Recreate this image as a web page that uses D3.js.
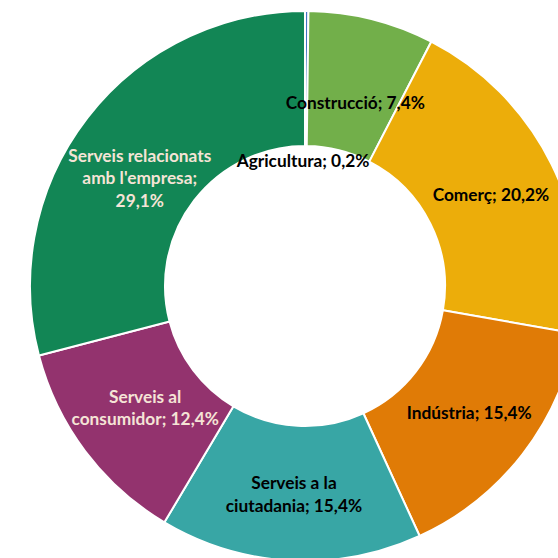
<!DOCTYPE html>
<html>
<head>
<meta charset="utf-8">
<script src="https://cdn.jsdelivr.net/npm/d3@7"></script>
<style>
html,body{margin:0;padding:0;background:#fff;overflow:hidden;}
svg{display:block;}
</style>
</head>
<body>
<svg id="chart" width="558" height="558"></svg>
<script>
// Data (clockwise from 12 o'clock)
const categories = ["Agricultura", "Construcció", "Comerç", "Indústria", "Serveis a la ciutadania", "Serveis al consumidor", "Serveis relacionats amb l'empresa"];
const values = [0.2, 7.4, 20.2, 15.4, 15.4, 12.4, 29.1];
const valueLabels = ["0,2%", "7,4%", "20,2%", "15,4%", "15,4%", "12,4%", "29,1%"];
// label lines as rendered in the reference
const labelLines = [
  ["Agricultura; 0,2%"],
  ["Construcció; 7,4%"],
  ["Comerç; 20,2%"],
  ["Indústria; 15,4%"],
  ["Serveis a la", "ciutadania; 15,4%"],
  ["Serveis al", "consumidor; 12,4%"],
  ["Serveis relacionats", "amb l'empresa;", "29,1%"]
];
const colors = ["#4472C4", "#72AF4A", "#ECAD0A", "#E07B06", "#38A6A5", "#93336E", "#128655"];
const labelColors = ["#000", "#000", "#000", "#000", "#000", "#F5E4D6", "#F5E4D6"];
// label nudges (px) from centroid
const labelNudge = [[-2, 0], [0, 18], [0, 1], [0, 0], [0, 1], [6, -3], [-1, 19]];

const svg = d3.select("#chart");
const cx = 305, cy = 286, outerR = 275, innerR = 140;
const g = svg.append("g").attr("transform", `translate(${cx},${cy})`);

const pie = d3.pie().sort(null).value(d => d.v);
const data = categories.map((c, i) => ({c, v: values[i], i}));
const arcs = pie(data);
const arc = d3.arc().innerRadius(innerR).outerRadius(outerR);
const labelArc = d3.arc().innerRadius((innerR + outerR) / 2).outerRadius((innerR + outerR) / 2);

g.selectAll("path.slice").data(arcs).enter().append("path")
  .attr("class", "slice")
  .attr("d", arc)
  .attr("fill", d => colors[d.data.i])
  .attr("stroke", "#fff")
  .attr("stroke-width", 2)
  .attr("stroke-linejoin", "round");

const fontSize = 17.3, lineH = 22.5;
const lbl = g.selectAll("text.lbl").data(arcs).enter().append("text")
  .attr("class", "lbl")
  .attr("text-anchor", "middle")
  .attr("font-family", "Lato, 'Open Sans', sans-serif")
  .attr("font-weight", 700)
  .attr("font-size", fontSize)
  .attr("fill", d => labelColors[d.data.i])
  .attr("transform", d => {
    let [x, y] = labelArc.centroid(d);
    if (d.data.i === 0) { // tiny slice: label drawn inside the hole, near top edge
      x = 0; y = -innerR + 15;
    }
    const n = labelNudge[d.data.i];
    return `translate(${x + n[0]},${y + n[1]})`;
  });

lbl.each(function(d) {
  const lines = labelLines[d.data.i];
  const t = d3.select(this);
  const off = -(lines.length - 1) / 2 * lineH;
  lines.forEach((ln, k) => {
    t.append("tspan").attr("x", 0).attr("y", off + k * lineH).attr("dy", "0.35em").text(ln);
  });
});
</script>
</body>
</html>
